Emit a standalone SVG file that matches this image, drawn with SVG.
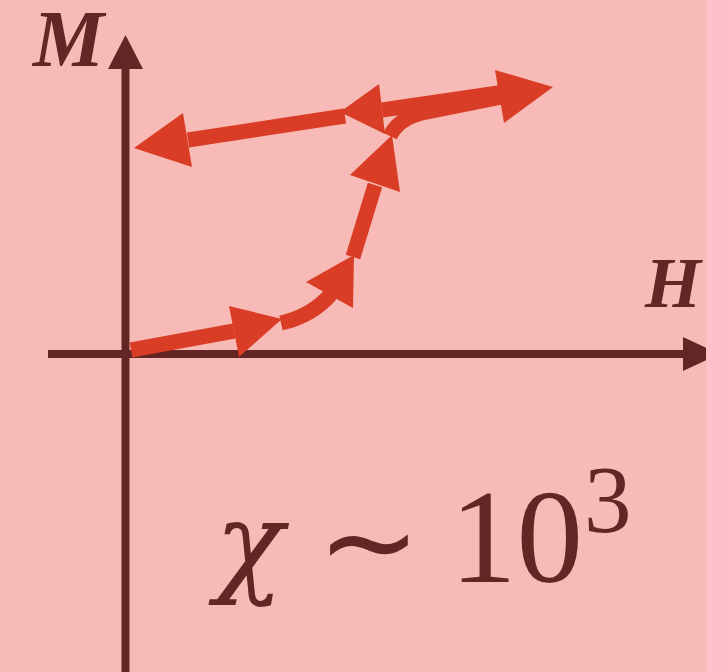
<svg xmlns="http://www.w3.org/2000/svg" width="706" height="672" viewBox="0 0 706 672">
<style>
.axis{stroke:#632624;stroke-width:8;fill:none}
.axh{fill:#632624}
.cv{stroke:#D93D26;stroke-width:15;fill:none;stroke-linejoin:round}
.ah{fill:#D93D26}
.lbl{fill:#632624}
</style>
<rect width="706" height="672" fill="#F7BAB7"/>
<g id="axes">
<line class="axis" x1="125.5" y1="672" x2="125.5" y2="66"/>
<polygon class="axh" points="125.5,35 108,69 143,69"/>
<line class="axis" x1="48" y1="354" x2="686" y2="354"/>
<polygon class="axh" points="719,354 683,337 683,371"/>
</g>
<g id="labels" font-family="'Liberation Serif', serif">
<text class="lbl" x="33" y="66" font-size="80" font-weight="bold" font-style="italic">M</text>
<text class="lbl" x="645" y="307" font-size="72" font-weight="bold" font-style="italic">H</text>
</g>
<g id="connectors">
<path class="cv" d="M131,350 L234,331"/>
<polygon class="ah" points="229,306 239,357 282,319"/>
<path class="cv" d="M281,323 Q312,316 331,294"/>
<polygon class="ah" points="306,282 353,308 354,255"/>
<path class="cv" d="M353,257 L375,185"/>
<polygon class="ah" points="350,175 400,192 392,135"/>
<path class="cv" d="M390,136 Q398,119 422,113 L502,97"/>
<polygon class="ah" points="495,70 504,123 553,87"/>
<path class="cv" d="M505,92 L382,110"/>
<polygon class="ah" points="379,84 385,134 340,112"/>
<path class="cv" d="M345,116 L188,140"/>
<polygon class="ah" points="183,113 192,167 134,148"/>
</g>
<g id="formula">
<text class="lbl" x="215" y="582" font-size="113" font-style="italic" font-family="'DejaVu Serif', serif">χ</text>
<text class="lbl" x="317" y="584" font-size="124" font-family="'Liberation Serif', serif">∼</text>
<text class="lbl" x="450" y="582" font-size="133" font-family="'Liberation Serif', serif">10</text>
<text class="lbl" x="584" y="532" font-size="95" font-family="'Liberation Serif', serif">3</text>
</g>
</svg>
